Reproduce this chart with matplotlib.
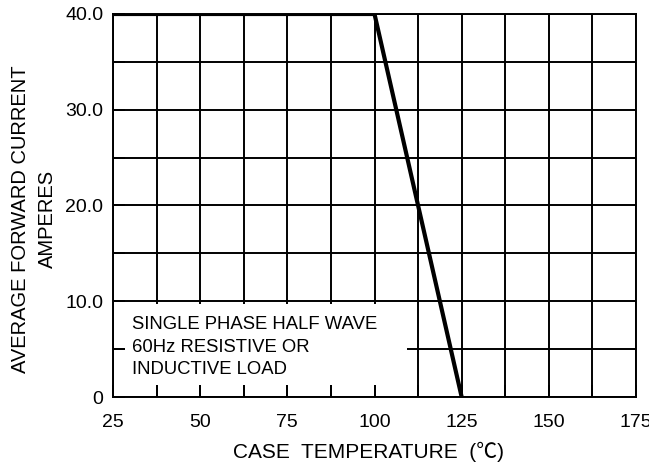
import matplotlib
matplotlib.use("Agg")
import matplotlib.pyplot as plt
import numpy as np
from matplotlib.patches import Rectangle

# Data
temp = [25, 100, 125]          # case temperature (°C)
current = [40.0, 40.0, 0.0]     # average forward current (A)
xticks = [25, 50, 75, 100, 125, 150, 175]
yticks = [0, 10, 20, 30, 40]
ytick_labels = ["0", "10.0", "20.0", "30.0", "40.0"]
note_lines = ["SINGLE PHASE HALF WAVE", "60Hz RESISTIVE OR", "INDUCTIVE LOAD"]

plt.rcParams['font.family'] = ['Liberation Sans', 'DejaVu Sans']

fig = plt.figure(figsize=(6.49, 4.68), dpi=100)
ax = fig.add_axes([113/649, 1-397/468, 523/649, 383/468])
ax.set_xlim(25, 175)
ax.set_ylim(0, 40)

# grid lines (drawn below the note box)
gx = np.arange(25, 175.1, 12.5)
gy = np.arange(0, 40.1, 5)
ax.vlines(gx, 0, 40, colors='black', lw=1.4, zorder=1)
ax.hlines(gy, 25, 175, colors='black', lw=1.4, zorder=1)

# white note box covering the grid
ax.add_patch(Rectangle((0.023, 0.031), 0.539, 0.212, transform=ax.transAxes,
                       facecolor='white', edgecolor='none', zorder=2))
ax.text(0.036, 0.1305, "\n".join(note_lines), transform=ax.transAxes,
        ha='left', va='center', fontsize=13.3, linespacing=1.45, zorder=3)

# curve
ax.plot(temp, current, color='black', lw=3.0, zorder=4, solid_joinstyle='miter')

ax.set_axisbelow(False)
ax.set_xticks(xticks)
ax.set_xticks(gx, minor=True)
ax.set_yticks(yticks)
ax.set_yticks(gy, minor=True)
ax.set_yticklabels(ytick_labels)
ax.tick_params(which='both', direction='in', length=8.5, width=1.4, color='black')
ax.tick_params(axis='x', which='major', labelsize=14, pad=12.5)
ax.tick_params(axis='y', which='major', labelsize=14, pad=7)
for s in ax.spines.values():
    s.set_linewidth(1.4)
    s.set_zorder(3)

ax.set_xlabel("CASE  TEMPERATURE  (℃)", fontsize=15,
              family=['Liberation Sans', 'Noto Sans CJK SC'])
ax.xaxis.set_label_coords(0.4885, -0.1436)
ax.xaxis.label.set_va('center')
ax.set_ylabel("AVERAGE FORWARD CURRENT\nAMPERES", fontsize=14.5, linespacing=1.5)
ax.yaxis.set_label_coords(-0.108, 0.465)

fig.savefig("out.png", dpi=100)
